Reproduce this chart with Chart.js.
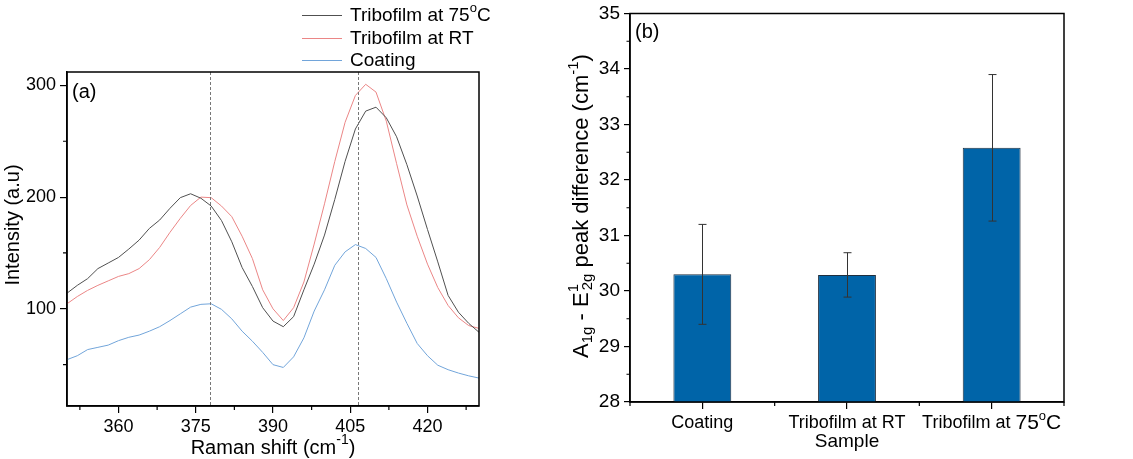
<!DOCTYPE html>
<html>
<head>
<meta charset="utf-8">
<script src="https://cdn.jsdelivr.net/npm/chart.js@4.4.1/dist/chart.umd.min.js"></script>
<style>
  html, body { margin: 0; padding: 0; background: #fff; }
  #wrap { position: relative; width: 1133px; height: 459px; }
  canvas { position: absolute; top: 0; }
  #raman { left: 0; }
  #diff { left: 550px; }
</style>
</head>
<body>
<div id="wrap">
  <canvas id="raman" width="550" height="459"></canvas>
  <canvas id="diff" width="583" height="459"></canvas>
</div>
<script>
'use strict';

const FONT = '"Liberation Sans", Arial, sans-serif';

// (a) Raman spectra
const ramanShift = [350, 352, 354, 356, 358, 360, 362, 364, 366, 368, 370, 372, 374, 376, 378, 380, 382, 384, 386, 388,
  390, 392, 394, 396, 398, 400, 402, 404, 406, 408, 410, 412, 414, 416, 418, 420, 422, 424, 426, 428, 430];
const tribo75 = [114, 121, 127, 136, 141, 146, 153.5, 161.5, 172, 179.5, 190, 199.5, 203, 199, 192, 179, 160, 137, 120, 101,
  89, 84, 93, 117, 140, 166, 198, 232, 261, 277, 280.5, 271, 254, 229, 201, 171, 142, 112, 97, 87, 79];
const triboRT = [104.5, 111, 116.5, 121, 125, 129, 131.5, 136, 144, 155, 168.5, 181, 192.5, 200, 199.5, 192, 182.5, 165, 145, 117,
  100, 89.5, 101, 124, 158, 194, 232, 267, 291, 301, 294, 268, 230, 193, 165, 140, 119, 103, 92, 85, 82.5];
const coating = [54.5, 58, 63.5, 65.5, 67.5, 71.5, 74.5, 76.5, 80, 84, 89.5, 95.5, 101.5, 104, 104.5, 99.5, 91, 80, 71, 61,
  50, 47.5, 57, 74, 98, 117, 139, 151, 157.5, 154, 146, 127, 106, 87, 69, 58, 49.5, 45.5, 42.5, 40, 38];
const peakLines = [377.7, 406.6];
const ramanTicks = [360, 375, 390, 405, 420];
const ramanMinor = [352.5, 367.5, 382.5, 397.5, 412.5, 427.5];
const intensityTicks = [100, 200, 300];
const intensityMinor = [50, 150, 250];

// (b) A1g - E12g peak difference
const samples = ['Coating', 'Tribofilm at RT', 'Tribofilm at #{75}^{o}#{C}'];
const peakDiff = [30.30, 30.29, 32.58];
const peakErr = [0.90, 0.40, 1.32];

// ^{..} superscript, _{..} subscript, #{..} slightly larger text
function parseRich(str) {
  const out = [];
  const re = /([\^_#])\{([^}]*)\}|([^\^_#]+)/g;
  let m;
  while ((m = re.exec(str))) {
    if (m[3]) out.push({ t: m[3], k: '' });
    else out.push({ t: m[2], k: m[1] === '^' ? 'sup' : m[1] === '_' ? 'sub' : 'big' });
  }
  return out;
}

function layoutRich(ctx, str, size) {
  const parts = parseRich(str);
  const small = Math.round(size * 0.7);
  const items = [];
  let x = 0;
  for (let i = 0; i < parts.length; i++) {
    const p = parts[i];
    if (p.k === '' || p.k === 'big') {
      ctx.font = (p.k === 'big' ? Math.round(size * 1.15) : size) + 'px ' + FONT;
      items.push({ t: p.t, x, dy: 0, f: ctx.font });
      x += ctx.measureText(p.t).width;
    } else {
      ctx.font = small + 'px ' + FONT;
      const w = ctx.measureText(p.t).width;
      const dy = p.k === 'sup' ? -size * 0.38 : size * 0.26;
      items.push({ t: p.t, x, dy, f: ctx.font });
      const next = parts[i + 1];
      if (p.k === 'sup' && next && next.k === 'sub') {
        items.push({ t: next.t, x: x + 2, dy: size * 0.26, f: ctx.font });
        x += Math.max(w, ctx.measureText(next.t).width + 2);
        i++;
      } else {
        x += w;
      }
    }
  }
  return { items, width: x };
}

function drawRich(ctx, str, x, y, size, align, angle) {
  ctx.save();
  ctx.translate(x, y);
  if (angle) ctx.rotate(angle);
  const L = layoutRich(ctx, str, size);
  const x0 = align === 'left' ? 0 : -L.width / 2;
  ctx.fillStyle = '#000';
  ctx.textBaseline = 'middle';
  ctx.textAlign = 'left';
  L.items.forEach(it => {
    ctx.font = it.f;
    ctx.fillText(it.t, x0 + it.x, it.dy);
  });
  ctx.restore();
}

function frame(ctx, area) {
  ctx.save();
  ctx.strokeStyle = '#000';
  ctx.lineWidth = 1.5;
  ctx.strokeRect(area.left, area.top, area.right - area.left, area.bottom - area.top);
  ctx.restore();
}

// short minor tick marks, outward
function tickMarks(ctx, pixels, len, onX, area) {
  ctx.save();
  ctx.strokeStyle = '#000';
  ctx.lineWidth = 1.2;
  ctx.beginPath();
  pixels.forEach(p => {
    if (onX) {
      ctx.moveTo(p, area.bottom);
      ctx.lineTo(p, area.bottom + len);
    } else {
      ctx.moveTo(area.left, p);
      ctx.lineTo(area.left - len, p);
    }
  });
  ctx.stroke();
  ctx.restore();
}

const toXY = ys => ramanShift.map((x, i) => ({ x, y: ys[i] }));

const ramanDecor = {
  id: 'ramanDecor',
  afterDatasetsDraw(chart) {
    const { ctx, chartArea: a, scales } = chart;
    ctx.save();
    ctx.strokeStyle = '#777';
    ctx.lineWidth = 1;
    ctx.setLineDash([3, 2]);
    peakLines.forEach(v => {
      const px = Math.round(scales.x.getPixelForValue(v)) + 0.5;
      ctx.beginPath();
      ctx.moveTo(px, a.top);
      ctx.lineTo(px, a.bottom);
      ctx.stroke();
    });
    ctx.restore();
  },
  afterDraw(chart) {
    const { ctx, chartArea: a, scales } = chart;
    frame(ctx, a);
    tickMarks(ctx, ramanMinor.map(v => scales.x.getPixelForValue(v)), 4, true, a);
    tickMarks(ctx, intensityMinor.map(v => scales.y.getPixelForValue(v)), 4, false, a);
    drawRich(ctx, '(a)', a.left + 5, a.top + 20, 20, 'left');
    drawRich(ctx, 'Raman shift (cm^{-1})', (a.left + a.right) / 2, 448, 20, 'center');
    drawRich(ctx, 'Intensity (a.u)', 13, 225, 20, 'center', -Math.PI / 2);
    // legend
    const rows = [15, 38, 60];
    chart.data.datasets.forEach((ds, i) => {
      ctx.save();
      ctx.strokeStyle = ds.borderColor;
      ctx.lineWidth = 1;
      ctx.beginPath();
      ctx.moveTo(302, rows[i] + 0.5);
      ctx.lineTo(342, rows[i] + 0.5);
      ctx.stroke();
      ctx.restore();
      drawRich(ctx, ds.label, 350, rows[i] + 1, 19, 'left');
    });
  }
};

new Chart(document.getElementById('raman'), {
  type: 'line',
  data: {
    datasets: [
      { label: 'Tribofilm at 75^{o}C', data: toXY(tribo75), borderColor: '#505050' },
      { label: 'Tribofilm at RT', data: toXY(triboRT), borderColor: '#eb8686' },
      { label: 'Coating', data: toXY(coating), borderColor: '#72a5da' }
    ]
  },
  options: {
    responsive: false,
    animation: false,
    layout: { padding: { left: 0, top: 72, right: 71, bottom: 0 } },
    plugins: { legend: { display: false }, tooltip: { enabled: false } },
    elements: { point: { radius: 0 }, line: { borderWidth: 1, tension: 0 } },
    scales: {
      x: {
        type: 'linear', min: 350, max: 430,
        afterBuildTicks: s => { s.ticks = ramanTicks.map(v => ({ value: v })); },
        afterFit: s => { s.height = 53; },
        grid: { drawOnChartArea: false, tickLength: 7, color: '#000', lineWidth: 1.2 },
        border: { color: '#000', width: 1.5 },
        ticks: { color: '#000', font: { family: FONT, size: 18 }, padding: 3, maxRotation: 0 }
      },
      y: {
        min: 13, max: 312,
        afterBuildTicks: s => { s.ticks = intensityTicks.map(v => ({ value: v })); },
        afterFit: s => { s.width = 67; },
        grid: { drawOnChartArea: false, tickLength: 7, color: '#000', lineWidth: 1.2 },
        border: { color: '#000', width: 1.5 },
        ticks: { color: '#000', font: { family: FONT, size: 18, lineHeight: 1 }, padding: 4 }
      }
    }
  },
  plugins: [ramanDecor]
});

const diffDecor = {
  id: 'diffDecor',
  afterDatasetsDraw(chart) {
    const { ctx, scales } = chart;
    const meta = chart.getDatasetMeta(0);
    ctx.save();
    ctx.strokeStyle = '#333';
    ctx.lineWidth = 1;
    meta.data.forEach((bar, i) => {
      const x = Math.round(bar.x) + 0.5;
      const yt = scales.y.getPixelForValue(peakDiff[i] + peakErr[i]);
      const yb = scales.y.getPixelForValue(peakDiff[i] - peakErr[i]);
      ctx.beginPath();
      ctx.moveTo(x, yt); ctx.lineTo(x, yb);
      ctx.moveTo(x - 4, yt); ctx.lineTo(x + 4, yt);
      ctx.moveTo(x - 4, yb); ctx.lineTo(x + 4, yb);
      ctx.stroke();
    });
    ctx.restore();
  },
  afterDraw(chart) {
    const { ctx, chartArea: a, scales } = chart;
    frame(ctx, a);
    const minor = [];
    for (let v = 28.5; v < 35; v += 1) minor.push(scales.y.getPixelForValue(v));
    tickMarks(ctx, minor, 3.5, false, a);
    const n = samples.length;
    const bounds = [];
    for (let i = 0; i <= n; i++) {
      bounds.push(i === 0 ? a.left : i === n ? a.right
        : (scales.x.getPixelForValue(i - 1) + scales.x.getPixelForValue(i)) / 2);
    }
    tickMarks(ctx, bounds, 4, true, a);
    samples.forEach((s, i) => {
      drawRich(ctx, s, scales.x.getPixelForValue(i), 423, 18, 'center');
    });
    drawRich(ctx, '(b)', a.left + 5, a.top + 19, 20, 'left');
    drawRich(ctx, 'Sample', (a.left + a.right) / 2, 442, 19, 'center');
    drawRich(ctx, 'A_{1g} - E^{1}_{2g} peak difference (cm^{-1})', 32, 206, 22, 'center', -Math.PI / 2);
  }
};

new Chart(document.getElementById('diff'), {
  type: 'bar',
  data: {
    labels: samples,
    datasets: [{
      data: peakDiff,
      backgroundColor: '#0064a8',
      borderColor: '#1f2f3f',
      borderWidth: 1,
      barPercentage: 0.4,
      categoryPercentage: 1.0
    }]
  },
  options: {
    responsive: false,
    animation: false,
    layout: { padding: { left: 0, top: 11, right: 69, bottom: 0 } },
    plugins: { legend: { display: false }, tooltip: { enabled: false } },
    scales: {
      x: {
        type: 'category', offset: true,
        afterFit: s => { s.height = 57; },
        grid: { offset: false, drawOnChartArea: false, tickLength: 7, color: '#000', lineWidth: 1.2 },
        border: { color: '#000', width: 1.5 },
        ticks: { display: false }
      },
      y: {
        min: 28, max: 35,
        ticks: { stepSize: 1, color: '#000', font: { family: FONT, size: 19, lineHeight: 1 }, padding: 4 },
        afterFit: s => { s.width = 80; },
        grid: { drawOnChartArea: false, tickLength: 6, color: '#000', lineWidth: 1.2 },
        border: { color: '#000', width: 1.5 }
      }
    }
  },
  plugins: [diffDecor]
});
</script>
</body>
</html>
